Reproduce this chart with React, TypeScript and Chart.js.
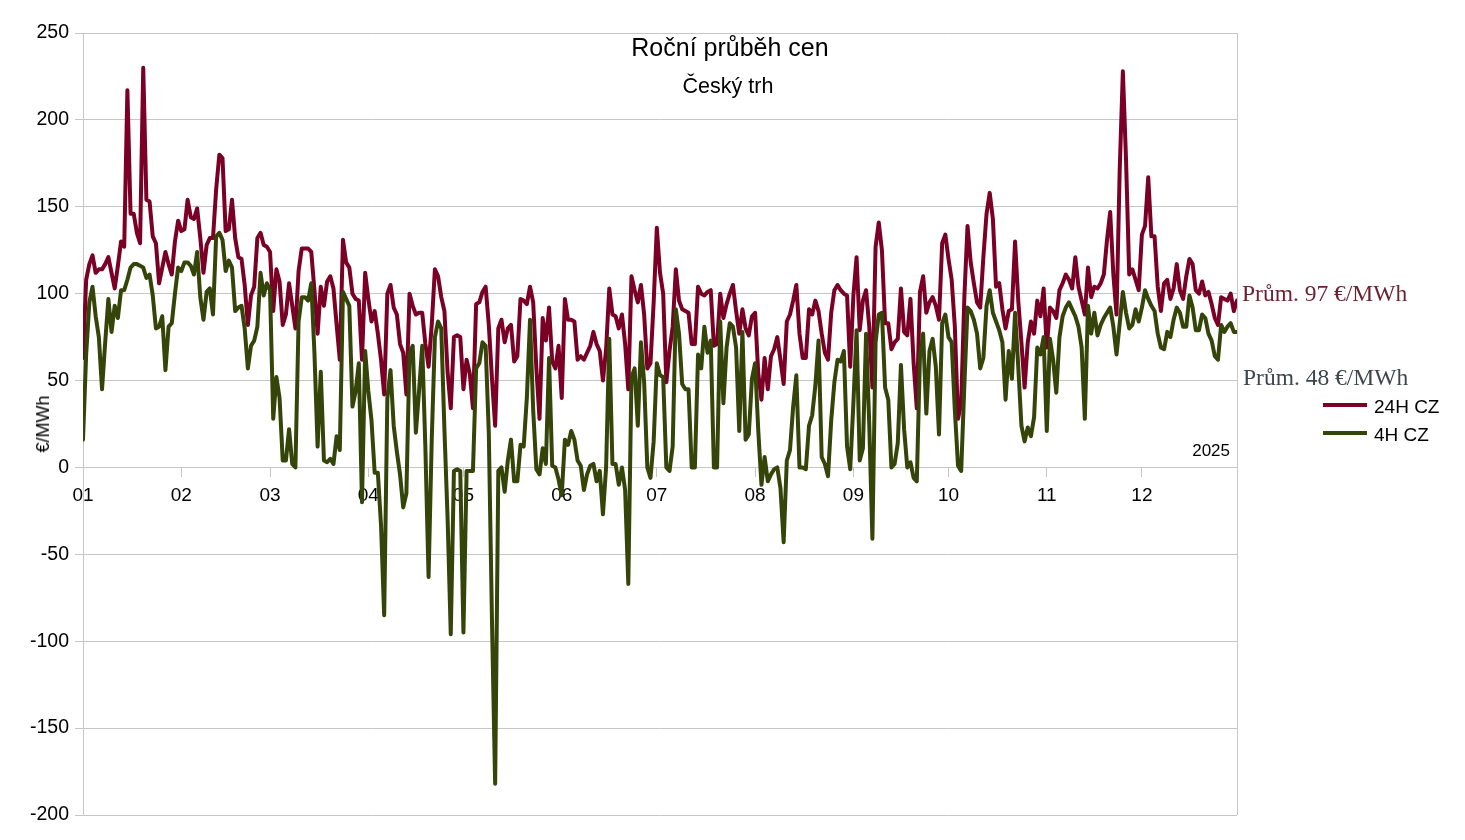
import { useEffect, useRef } from 'react';
import { Chart, registerables } from 'chart.js';

Chart.register(...registerables);

// month start (day index) and labels on the x axis
const MONTH_STARTS = [0, 31, 59, 90, 120, 151, 181, 212, 243, 273, 304, 334];
const MONTH_LABELS = ['01', '02', '03', '04', '05', '06', '07', '08', '09', '10', '11', '12'];
const LAST_DAY = 364;

const Y_MIN = -200;
const Y_MAX = 250;
const Y_STEP = 50;

const SERIES_NAMES = ['24H CZ', '4H CZ'];
const AVERAGES = [97, 48];

// daily prices, EUR/MWh
const PRICE_24H = [
  63, 108, 117, 122, 112, 114, 114, 117, 121, 112,
  103, 116, 130, 127, 217, 146, 146, 135, 129, 230,
  154, 153, 133, 129, 106, 115, 124, 117, 111, 130,
  142, 136, 137, 154, 144, 143, 149, 132, 112, 128,
  132, 132, 160, 180, 178, 136, 137, 154, 132, 121,
  120, 105, 82, 99, 104, 132, 135, 128, 127, 124,
  90, 114, 107, 82, 88, 106, 93, 80, 113, 126,
  126, 126, 124, 102, 77, 104, 93, 107, 110, 103,
  82, 62, 131, 118, 115, 100, 97, 96, 62, 112,
  97, 84, 90, 77, 62, 42, 100, 105, 92, 88,
  71, 66, 42, 100, 93, 88, 89, 89, 71, 58,
  82, 114, 110, 98, 90, 55, 34, 75, 76, 75,
  45, 62, 54, 34, 94, 95, 101, 104, 82, 51,
  24, 80, 85, 72, 80, 82, 61, 64, 97, 96,
  94, 104, 95, 57, 28, 86, 73, 92, 61, 57,
  70, 40, 97, 85, 85, 84, 62, 64, 62, 66,
  70, 78, 71, 67, 50, 68, 103, 88, 87, 80,
  88, 71, 45, 110, 102, 95, 105, 88, 57, 60,
  95, 138, 112, 100, 49, 67, 81, 114, 96, 91,
  90, 89, 71, 71, 104, 100, 99, 101, 102, 70,
  71, 100, 86, 94, 100, 105, 90, 77, 91, 80,
  76, 87, 89, 54, 39, 63, 45, 64, 68, 75,
  62, 48, 84, 88, 96, 105, 77, 63, 63, 91,
  88, 96, 90, 77, 66, 62, 89, 102, 105, 102,
  100, 99, 58, 99, 121, 79, 96, 102, 81, 46,
  127, 141, 125, 83, 83, 68, 72, 74, 103, 78,
  76, 97, 60, 34, 101, 110, 89, 95, 98, 93,
  85, 129, 134, 120, 108, 81, 28, 37, 98, 139,
  118, 106, 95, 92, 121, 146, 158, 143, 104, 106,
  91, 80, 90, 91, 130, 96, 72, 46, 72, 84,
  77, 96, 87, 103, 69, 92, 90, 86, 102, 106,
  111, 108, 103, 121, 104, 96, 88, 115, 98, 104,
  103, 106, 111, 131, 147, 111, 88, 171, 228, 177,
  111, 114, 108, 102, 134, 139, 167, 133, 133, 104,
  90, 106, 108, 97, 103, 117, 102, 97, 110, 120,
  117, 102, 100, 107, 99, 101, 94, 86, 82, 98,
  97, 96, 100, 90, 96,
];

const PRICE_4H = [
  16, 65, 95, 104, 87, 75, 45, 72, 97, 78,
  93, 86, 102, 102, 108, 115, 117, 117, 116, 115,
  109, 111, 99, 80, 81, 87, 56, 81, 83, 100,
  115, 113, 118, 118, 116, 111, 124, 98, 85, 101,
  103, 88, 133, 135, 131, 113, 119, 115, 90, 92,
  93, 80, 57, 70, 73, 81, 112, 99, 106, 102,
  28, 52, 40, 4, 4, 22, 2, 0, 84, 98,
  98, 96, 106, 66, 12, 55, 4, 3, 5, 2,
  18, 10, 101, 97, 93, 35, 44, 60, -20, 67,
  44, 27, -3, -3, -33, -85, 40, 56, 24, 9,
  -4, -23, -15, 66, 70, 20, 44, 70, 11, -63,
  16, 75, 84, 80, 22, -29, -96, -2, -1, -2,
  -95, -2, -2, -2, 57, 60, 72, 70, 20, -88,
  -182, -2, 0, -14, 4, 16, -8, -8, 13, 12,
  40, 85, 33, -1, -4, 11, 2, 63, 1, 0,
  -7, -16, 16, 13, 21, 16, 4, 1, -13, -4,
  1, 2, -8, -2, -27, 0, 74, 2, 2, -10,
  0, -13, -67, 52, 57, 24, 72, 49, 0, -6,
  15, 60, 53, 52, 0, -2, 12, 91, 77, 48,
  45, 45, 0, 0, 65, 57, 81, 66, 73, 0,
  0, 84, 37, 69, 83, 81, 69, 21, 78, 16,
  19, 51, 60, 21, -10, 6, -8, -4, -1, 0,
  -12, -43, 4, 10, 35, 53, 0, 0, -1, 24,
  30, 47, 73, 6, 2, -5, 27, 49, 62, 61,
  67, 12, -1, 37, 79, 4, 11, 77, 25, -41,
  72, 88, 89, 46, 39, 0, 2, 14, 59, 22,
  0, 3, -6, -8, 64, 77, 31, 67, 74, 58,
  19, 83, 88, 75, 72, 33, 1, -2, 47, 92,
  90, 85, 77, 57, 63, 93, 102, 89, 84, 79,
  72, 39, 67, 51, 89, 58, 24, 15, 23, 18,
  29, 69, 65, 75, 21, 74, 62, 43, 75, 87,
  92, 95, 91, 87, 81, 69, 28, 93, 77, 89,
  76, 82, 86, 89, 92, 81, 65, 83, 101, 89,
  80, 82, 91, 84, 92, 102, 97, 93, 90, 77,
  69, 68, 78, 75, 85, 92, 89, 81, 81, 99,
  92, 79, 79, 88, 86, 77, 73, 64, 62, 82,
  78, 81, 83, 78, 78,
];

const RED = '#7a0026';
const GREEN = '#354409';
const GRID = '#c6c6c6';
const SANS = '"Liberation Sans", Arial, sans-serif';
const SERIF = '"Liberation Serif", "Times New Roman", serif';

const rightFrame = {
  id: 'rightFrame',
  beforeDatasetsDraw(chart: Chart) {
    const { ctx, chartArea } = chart;
    ctx.save();
    ctx.strokeStyle = GRID;
    ctx.lineWidth = 1;
    ctx.beginPath();
    ctx.moveTo(Math.round(chartArea.right) + 0.5, chartArea.top);
    ctx.lineTo(Math.round(chartArea.right) + 0.5, chartArea.bottom);
    ctx.stroke();
    ctx.restore();
  },
};

const toPoints = (values: number[]) => values.map((y, x) => ({ x, y }));

const PriceChart = () => {
  const canvasRef = useRef<HTMLCanvasElement | null>(null);

  useEffect(() => {
    if (!canvasRef.current) return;
    const line = {
      borderWidth: 4,
      pointRadius: 0,
      borderJoinStyle: 'round' as const,
      borderCapStyle: 'round' as const,
    };
    const chart = new Chart(canvasRef.current, {
      type: 'line',
      data: {
        datasets: [
          { label: SERIES_NAMES[0], data: toPoints(PRICE_24H), borderColor: RED, order: 1, ...line },
          { label: SERIES_NAMES[1], data: toPoints(PRICE_4H), borderColor: GREEN, order: 0, ...line },
        ],
      },
      options: {
        responsive: false,
        animation: false,
        layout: { padding: { top: 33, bottom: 25, left: 0, right: 228 } },
        plugins: {
          legend: { display: false },
          tooltip: { enabled: false },
        },
        scales: {
          x: {
            type: 'linear',
            position: { y: 0 },
            min: 0,
            max: LAST_DAY,
            afterBuildTicks: (scale) => {
              scale.ticks = MONTH_STARTS.map((value) => ({ value }));
            },
            ticks: {
              autoSkip: false,
              maxRotation: 0,
              padding: 8,
              color: '#000',
              font: { family: SANS, size: 19 },
              callback: (value) => MONTH_LABELS[MONTH_STARTS.indexOf(Number(value))] ?? '',
            },
            grid: { drawOnChartArea: false, drawTicks: true, tickLength: 9, color: GRID },
            border: { display: true, color: GRID },
          },
          y: {
            min: Y_MIN,
            max: Y_MAX,
            afterFit: (scale) => {
              scale.width = 83;
            },
            ticks: {
              stepSize: Y_STEP,
              padding: 6,
              color: '#000',
              font: { family: SANS, size: 19.5 },
            },
            grid: { color: GRID, tickLength: 8 },
            border: { color: GRID },
          },
        },
      },
      plugins: [rightFrame],
    });
    return () => chart.destroy();
  }, []);

  return <canvas ref={canvasRef} width={1465} height={840} style={{ width: 1465, height: 840, display: 'block' }} />;
};

const text = (style: React.CSSProperties): React.CSSProperties => ({
  position: 'absolute',
  lineHeight: 1,
  whiteSpace: 'nowrap',
  ...style,
});

export default function App() {
  return (
    <div style={{ position: 'absolute', left: 0, top: 0, width: 1465, height: 840, background: '#fff', fontFamily: SANS }}>
      <PriceChart />
      <div style={text({ left: 730, top: 47, transform: 'translate(-50%, -50%)', fontSize: 25, color: '#000' })}>
        Roční průběh cen
      </div>
      <div style={text({ left: 728, top: 87, transform: 'translate(-50%, -50%)', fontSize: 21.5, color: '#000' })}>
        Český trh
      </div>
      <div style={text({ left: 1230, top: 450, transform: 'translate(-100%, -50%)', fontSize: 17, color: '#000' })}>
        2025
      </div>
      <div
        style={text({
          left: 43,
          top: 424,
          transform: 'translate(-50%, -50%) rotate(-90deg)',
          fontSize: 18,
          color: '#000',
        })}
      >
        €/MWh
      </div>
      <div style={text({ left: 1242, top: 294, transform: 'translateY(-50%)', fontSize: 23.5, color: '#6b1f2f', fontFamily: SERIF })}>
        Prům. {AVERAGES[0]} €/MWh
      </div>
      <div style={text({ left: 1243, top: 378, transform: 'translateY(-50%)', fontSize: 23.5, color: '#3d464d', fontFamily: SERIF })}>
        Prům. {AVERAGES[1]} €/MWh
      </div>
      {SERIES_NAMES.map((name, i) => (
        <div key={name}>
          <div style={{ position: 'absolute', left: 1323, top: 403 + i * 28, width: 44, height: 4, background: i === 0 ? RED : GREEN }} />
          <div style={text({ left: 1374, top: 406 + i * 28, transform: 'translateY(-50%)', fontSize: 19, color: '#000' })}>
            {name}
          </div>
        </div>
      ))}
    </div>
  );
}
